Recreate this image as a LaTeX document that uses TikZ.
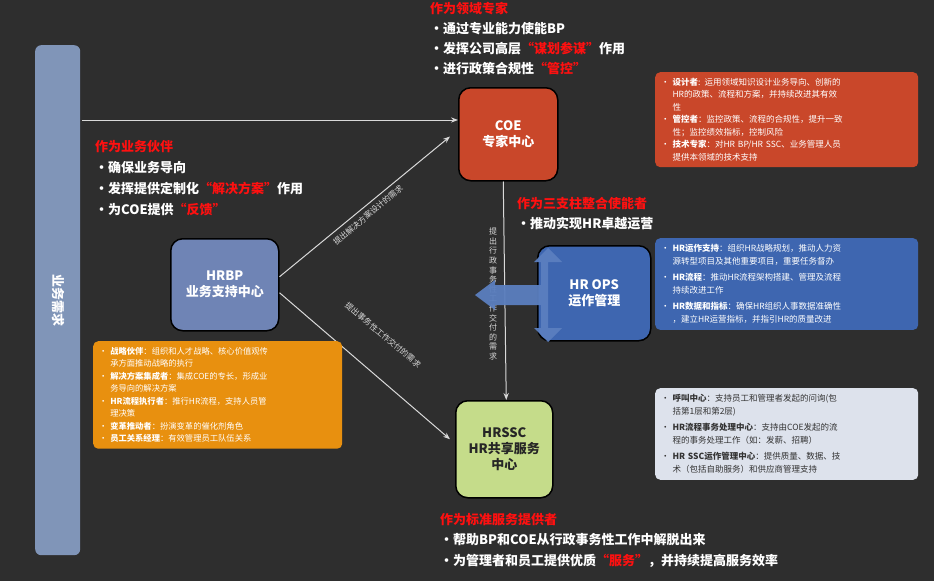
\documentclass[tikz,border=0pt]{standalone}
\usepackage{fontspec}
\setmainfont{Noto Sans CJK SC}
\newcommand\cjkb{\bfseries}
\usetikzlibrary{arrows.meta,shapes.geometric,calc}
\definecolor{bgc}{HTML}{2E2E2E}
\definecolor{coec}{HTML}{C9472A}
\definecolor{bpc}{HTML}{6F84B5}
\definecolor{opsc}{HTML}{3E66B0}
\definecolor{sscc}{HTML}{C5DC8A}
\definecolor{barc}{HTML}{8095B8}
\definecolor{orc}{HTML}{E8900F}
\definecolor{grc}{HTML}{DDE2EC}
\definecolor{redt}{HTML}{FF1010}
\definecolor{arrc}{HTML}{5B7FBF}
\begin{document}
\begin{tikzpicture}[x=1pt,y=-1pt,
 main/.style={draw=black,line width=1.5pt,rounded corners=12pt,text=white,font=\cjkb\fontsize{13}{16}\selectfont,align=center,anchor=north west},
 info/.style={rounded corners=5pt,anchor=north west,text=white,font=\fontsize{8.5}{12.5}\selectfont,align=left,inner sep=6pt},
 head/.style={anchor=north west,text=redt,font=\cjkb\fontsize{13}{16}\selectfont,inner sep=0pt},
 bul/.style={anchor=north west,text=white,font=\cjkb\fontsize{13}{16}\selectfont,inner sep=0pt},
 conn/.style={draw=white!85!black,line width=1pt,-{Stealth[length=7pt]}},
 lab/.style={text=white!85!black,font=\fontsize{8}{9}\selectfont,inner sep=1pt}]
\fill[bgc] (0,0) rectangle (934,581);
\useasboundingbox (0,0) rectangle (934,581);
% left bar
\node[fill=barc,rounded corners=6pt,minimum width=45pt,minimum height=510pt,anchor=north west,inner sep=0pt] (bar) at (35,45) {};
\node[rotate=-90,text=white,font=\cjkb\fontsize{13}{16}\selectfont] (bart) at (58,300) {业务需求};
% main boxes
\node[main,fill=coec,minimum width=99pt,minimum height=93pt] (coe) at (458,87) {COE\\专家中心};
\node[main,fill=bpc,minimum width=108pt,minimum height=92pt] (bp) at (170,238) {HRBP\\业务支持中心};
\node[main,fill=opsc,minimum width=113pt,minimum height=95pt] (ops) at (537,245) {HR OPS\\运作管理};
\node[main,fill=sscc,text=black!85,minimum width=97pt,minimum height=97pt] (ssc) at (455,400) {HRSSC\\HR共享服务\\中心};
% connectors
\coordinate (barA) at (82,120);
\draw[conn] (barA) -- (coe.west |- barA);
\draw[conn] ($(bp.east)+(0,-8)$) -- ($(coe.south west)+(-8,-45)$);
\draw[conn] ($(bp.east)+(0,8)$) -- ($(ssc.west)+(-5,-10)$);
\draw[conn] ($(coe.south)+(-5,0)$) -- ($(ssc.north)+(2,0)$);
% labels
\node[lab,rotate=40] (l1) at (368,215) {提出解决方案设计的需求};
\node[lab,rotate=-40] (l2) at (383,335) {提出事务性工作交付的需求};
\node[lab,align=center,font=\fontsize{8}{9.6}\selectfont] (l3) at (493,294) {提\\出\\行\\政\\事\\务\\性\\工\\作\\交\\付\\的\\需\\求};
% blue arrow shape
\fill[arrc,opacity=0.95] (548,262) -- (562,262) -- (548,248) -- (534,262) -- (541,262) -- (541,285) -- (495,285) -- (495,280) -- (475,295) -- (495,310) -- (495,305) -- (541,305) -- (541,328) -- (534,328) -- (548,342) -- (562,328) -- (548,328) -- cycle;
% info boxes
\node[info,fill=coec,text width=251pt] (i1) at (655,72) {• \textbf{设计者}: 运用领域知识设计业务导向、创新的\\\phantom{• }HR的政策、流程和方案，并持续改进其有效\\\phantom{• }性\\• \textbf{管控者}：监控政策、流程的合规性，提升一致\\\phantom{• }性；监控绩效指标，控制风险\\• \textbf{技术专家}：对HR BP/HR SSC、业务管理人员\\\phantom{• }提供本领域的技术支持};
\node[info,fill=opsc,text width=251pt,font=\fontsize{8.5}{13.5}\selectfont] (i2) at (655,238) {• \textbf{HR运作支持}：组织HR战略规划，推动人力资\\\phantom{• }源转型项目及其他重要项目，重要任务督办\\[2pt]• \textbf{HR流程}：推动HR流程架构搭建、管理及流程\\\phantom{• }持续改进工作\\[2pt]• \textbf{HR数据和指标}：确保HR组织人事数据准确性\\\phantom{• }，建立HR运营指标，并指引HR的质量改进};
\node[info,fill=grc,text=black!80,text width=251pt,font=\fontsize{8.5}{13.5}\selectfont] (i3) at (655,388) {• \textbf{呼叫中心}：支持员工和管理者发起的问询(包\\\phantom{• }括第1层和第2层)\\[2pt]• \textbf{HR流程事务处理中心}：支持由COE发起的流\\\phantom{• }程的事务处理工作（如：发薪、招聘）\\[2pt]• \textbf{HR SSC运作管理中心}：提供质量、数据、技\\\phantom{• }术（包括自助服务）和供应商管理支持};
\node[info,fill=orc,text width=237pt,font=\fontsize{8.3}{12.5}\selectfont] (i4) at (93,341) {• \textbf{战略伙伴}：组织和人才战略、核心价值观传\\\phantom{• }承方面推动战略的执行\\• \textbf{解决方案集成者}：集成COE的专长，形成业\\\phantom{• }务导向的解决方案\\• \textbf{HR流程执行者}：推行HR流程，支持人员管\\\phantom{• }理决策\\• \textbf{变革推动者}：扮演变革的催化剂角色\\• \textbf{员工关系经理}：有效管理员工队伍关系};
% text blocks
\node[head] (h1) at (430,2) {作为领域专家};
\node[bul] (b11) at (430,22) {•通过专业能力使能BP};
\node[bul] (b12) at (430,42) {•发挥公司高层{\color{redt}“谋划参谋”}作用};
\node[bul] (b13) at (430,62) {•进行政策合规性{\color{redt}“管控”}};
\node[head] (h2) at (95,140) {作为业务伙伴};
\node[bul] (b21) at (95,161) {•确保业务导向};
\node[bul] (b22) at (95,182) {•发挥提供定制化{\color{redt}“解决方案”}作用};
\node[bul] (b23) at (95,203) {•为COE提供{\color{redt}“反馈”}};
\node[head] (h3) at (517,197) {作为三支柱整合使能者};
\node[bul] (b31) at (517,217) {•推动实现HR卓越运营};
\node[head] (h4) at (440,513) {作为标准服务提供者};
\node[bul] (b41) at (440,533) {•帮助BP和COE从行政事务性工作中解脱出来};
\node[bul] (b42) at (440,554) {•为管理者和员工提供优质{\color{redt}“服务”}，并持续提高服务效率};
\end{tikzpicture}
\end{document}
